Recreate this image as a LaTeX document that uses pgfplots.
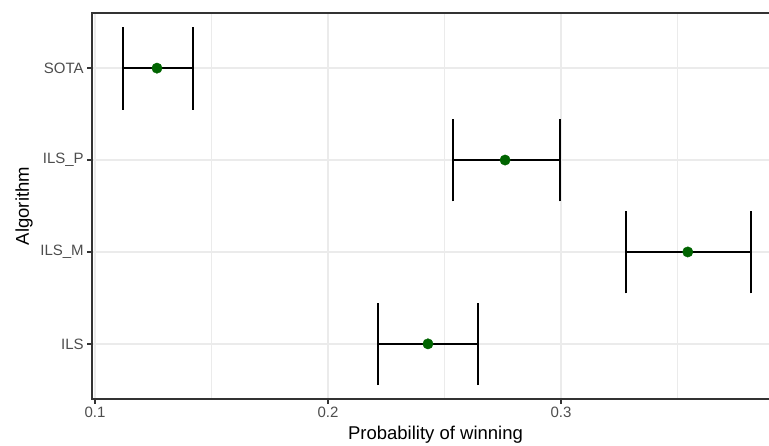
\documentclass[border=0pt]{standalone}
\usepackage{pgfplots}
\pgfplotsset{compat=1.18}
\usepackage{fontspec}
\setmainfont{Liberation Sans}
\definecolor{gray92}{HTML}{EBEBEB}
\definecolor{gray30}{HTML}{4D4D4D}
\definecolor{gray20}{HTML}{333333}
\definecolor{dkgreen}{HTML}{006400}
\begin{document}
\begin{tikzpicture}
\begin{axis}[
  at={(92pt,46pt)}, anchor=south west,
  scale only axis, width=687pt, height=386pt,
  xmin=0.098712, xmax=0.39356, ymin=0.4, ymax=4.6,
  xtick={0.1,0.2,0.3}, xticklabels={0.1,0.2,0.3},
  minor xtick={0.15,0.25,0.35},
  ytick={1,2,3,4}, yticklabels={ILS,ILS\_M,ILS\_P,SOTA},
  xtick pos=bottom, ytick pos=left,
  grid=both,
  major grid style={gray92, line width=1.8pt},
  minor grid style={gray92, line width=0.9pt},
  axis line style={draw=gray20, line width=1.6pt},
  tick align=outside, major tick length=4.75pt, minor tick length=0pt,
  major tick style={gray20, line width=1.6pt},
  tick label style={font=\fontsize{15}{18}\selectfont, text=gray30},
  xlabel={Probability of winning}, ylabel={Algorithm},
  every axis x label/.style={at={(axis description cs:0.5,0)}, anchor=base, yshift=-40.5pt, font=\fontsize{18.5}{22}\selectfont},
  every axis y label/.style={at={(axis description cs:0,0.5)}, anchor=base, rotate=90, yshift=63pt, font=\fontsize{18.5}{22}\selectfont},
  clip=false,
]
% error bars: horizontal segments
\addplot[black, line width=1.8pt] coordinates {(0.1120,4) (0.1421,4)};
\addplot[black, line width=1.8pt] coordinates {(0.2535,3) (0.2996,3)};
\addplot[black, line width=1.8pt] coordinates {(0.3279,2) (0.3815,2)};
\addplot[black, line width=1.8pt] coordinates {(0.2215,1) (0.2644,1)};
% caps
\addplot[black, line width=1.8pt] coordinates {(0.1120,3.55) (0.1120,4.45)};
\addplot[black, line width=1.8pt] coordinates {(0.1421,3.55) (0.1421,4.45)};
\addplot[black, line width=1.8pt] coordinates {(0.2535,2.55) (0.2535,3.45)};
\addplot[black, line width=1.8pt] coordinates {(0.2996,2.55) (0.2996,3.45)};
\addplot[black, line width=1.8pt] coordinates {(0.3279,1.55) (0.3279,2.45)};
\addplot[black, line width=1.8pt] coordinates {(0.3815,1.55) (0.3815,2.45)};
\addplot[black, line width=1.8pt] coordinates {(0.2215,0.55) (0.2215,1.45)};
\addplot[black, line width=1.8pt] coordinates {(0.2644,0.55) (0.2644,1.45)};
% points
\addplot[only marks, mark=*, mark size=5.2pt, color=dkgreen] coordinates {
  (0.1266,4) (0.2760,3) (0.3544,2) (0.2429,1)};
\end{axis}
\pgfresetboundingbox
\path (0,0) rectangle (769pt,445pt);
\end{tikzpicture}
\end{document}
